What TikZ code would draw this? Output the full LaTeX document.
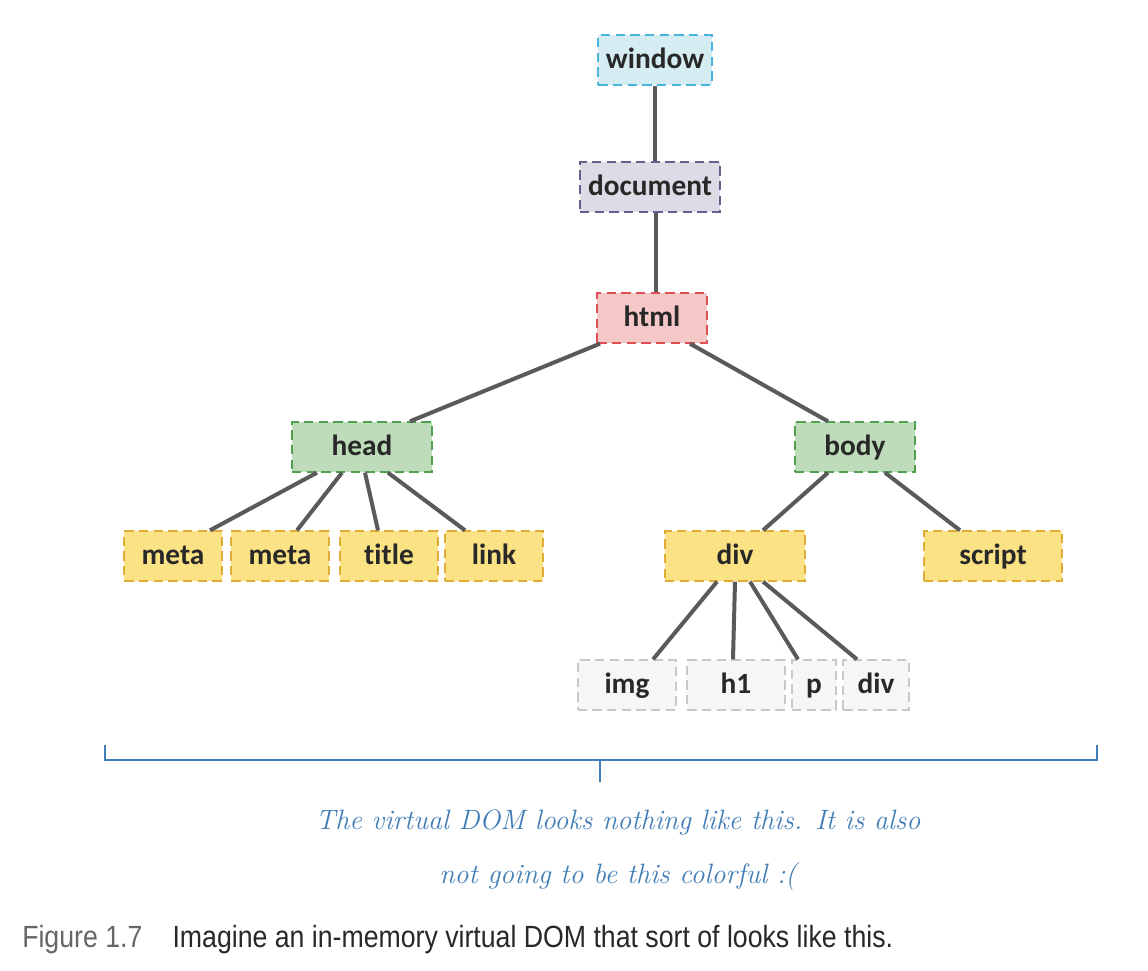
\documentclass[tikz,border=0pt]{standalone}
\usepackage{fontspec}
\setmainfont[Ligatures=NoCommon]{Carlito}
\newfontfamily\capfont{Liberation Sans}
\newfontfamily\notefont{Latin Modern Roman}
\usepackage{tikz}
\usetikzlibrary{calc}
\definecolor{edgegray}{RGB}{90,90,90}
\definecolor{winfill}{RGB}{214,236,243}
\definecolor{windraw}{RGB}{70,180,220}
\definecolor{docfill}{RGB}{221,219,229}
\definecolor{docdraw}{RGB}{100,95,140}
\definecolor{htmlfill}{RGB}{245,200,200}
\definecolor{htmldraw}{RGB}{220,80,85}
\definecolor{grnfill}{RGB}{190,220,186}
\definecolor{grndraw}{RGB}{80,160,80}
\definecolor{ylwfill}{RGB}{251,226,132}
\definecolor{ylwdraw}{RGB}{222,172,55}
\definecolor{gryfill}{RGB}{246,246,246}
\definecolor{grydraw}{RGB}{200,200,200}
\definecolor{notecol}{RGB}{65,125,182}
\definecolor{txtcol}{RGB}{40,40,40}

\begin{document}
\begin{tikzpicture}[x=0.75pt,y=-0.75pt,
    tag/.style={dashed,dash pattern=on 7pt off 4pt,line width=1.5pt,
      minimum height=37pt,inner sep=0pt,text=txtcol,
      text height=16pt,text depth=3pt,
      font=\fontsize{22}{24}\selectfont\bfseries},
    wintag/.style={tag,fill=winfill,draw=windraw},
    doctag/.style={tag,fill=docfill,draw=docdraw},
    htmltag/.style={tag,fill=htmlfill,draw=htmldraw},
    grntag/.style={tag,fill=grnfill,draw=grndraw},
    ylwtag/.style={tag,fill=ylwfill,draw=ylwdraw},
    grytag/.style={tag,fill=gryfill,draw=grydraw},
    edge/.style={draw=edgegray,line width=3pt}]
        \useasboundingbox (0,0) rectangle (1148,970);
        %
        \node [wintag, minimum width=85pt] (window) at (655,60) {window};
        \node [doctag, minimum width=105pt] (document) at (650,187) {document};
        \node [htmltag, minimum width=82pt] (html) at (652,318) {html};
        %
        \node [grntag, minimum width=105pt] (head) at (362,447) {head};
        \node [grntag, minimum width=90pt] (body) at (855,447) {body};
        %
        \node [ylwtag, minimum width=73pt] (meta1) at (173,556) {meta};
        \node [ylwtag, minimum width=73pt] (meta2) at (280,556) {meta};
        \node [ylwtag, minimum width=73pt] (title) at (389,556) {title};
        \node [ylwtag, minimum width=74pt] (link) at (494,556) {link};
        \node [ylwtag, minimum width=105pt] (div) at (735,556) {div};
        \node [ylwtag, minimum width=104pt] (script) at (993,556) {script};
        %
        \node [grytag, minimum width=74pt] (img) at (627,685) {img};
        \node [grytag, minimum width=73pt] (h1) at (736,685) {h1};
        \node [grytag, minimum width=33pt] (p) at (814,685) {p};
        \node [grytag, minimum width=49pt] (div2) at (876,685) {div};
        %
        \draw [edge] (window.south) -- (window.south |- document.north);
        \draw [edge] ($(document.south)+(6,0)$) -- ($(document.south |- html.north)+(6,0)$);
        \draw [edge] ($(html.south)+(-52,0)$) -- ($(head.north)+(48,0)$);
        \draw [edge] ($(html.south)+(38,0)$) -- ($(body.north)+(-27,0)$);
        %
        \draw [edge] ($(head.south)+(-45,0)$) -- ($(meta1.north)+(37,0)$);
        \draw [edge] ($(head.south)+(-20,0)$) -- ($(meta2.north)+(17,0)$);
        \draw [edge] ($(head.south)+(3,0)$) -- ($(title.north)+(-11,0)$);
        \draw [edge] ($(head.south)+(26,0)$) -- ($(link.north)+(-29,0)$);
        %
        \draw [edge] ($(body.south)+(-27,0)$) -- ($(div.north)+(28,0)$);
        \draw [edge] ($(body.south)+(30,0)$) -- ($(script.north)+(-33,0)$);
        %
        \draw [edge] ($(div.south)+(-18,0)$) -- ($(img.north)+(26,0)$);
        \draw [edge] ($(div.south)+(0,0)$) -- ($(h1.north)+(-3,0)$);
        \draw [edge] ($(div.south)+(15,0)$) -- ($(p.north)+(-16,0)$);
        \draw [edge] ($(div.south)+(28,0)$) -- ($(div2.north)+(-19,0)$);
        %
        \coordinate (bl) at (105,745);
        \coordinate (br) at (1097,745);
        \coordinate (bm) at (600,760);
        \draw [notecol, line width=2pt] (bl) -- (bl |- bm) -- (br |- bm) -- (br);
        \draw [notecol, line width=2pt] (bm) -- ++(0,22);
        %
        \node [notecol, font=\notefont\itshape\fontsize{21}{40}\selectfont, align=center] (note) at (618,850)
          {The virtual DOM looks nothing like this. It is also\\
           not going to be this colorful :(};
        %
        \node [anchor=west, inner sep=0pt, font=\capfont\fontsize{23}{26}\selectfont] (cap) at (22,940)
          {\scalebox{0.87}[1]{\textcolor{black!60}{Figure 1.7}\hspace{26pt}\textcolor{txtcol}{Imagine an in-memory virtual DOM that sort of looks like this.}}};
      \end{tikzpicture}
\end{document}
